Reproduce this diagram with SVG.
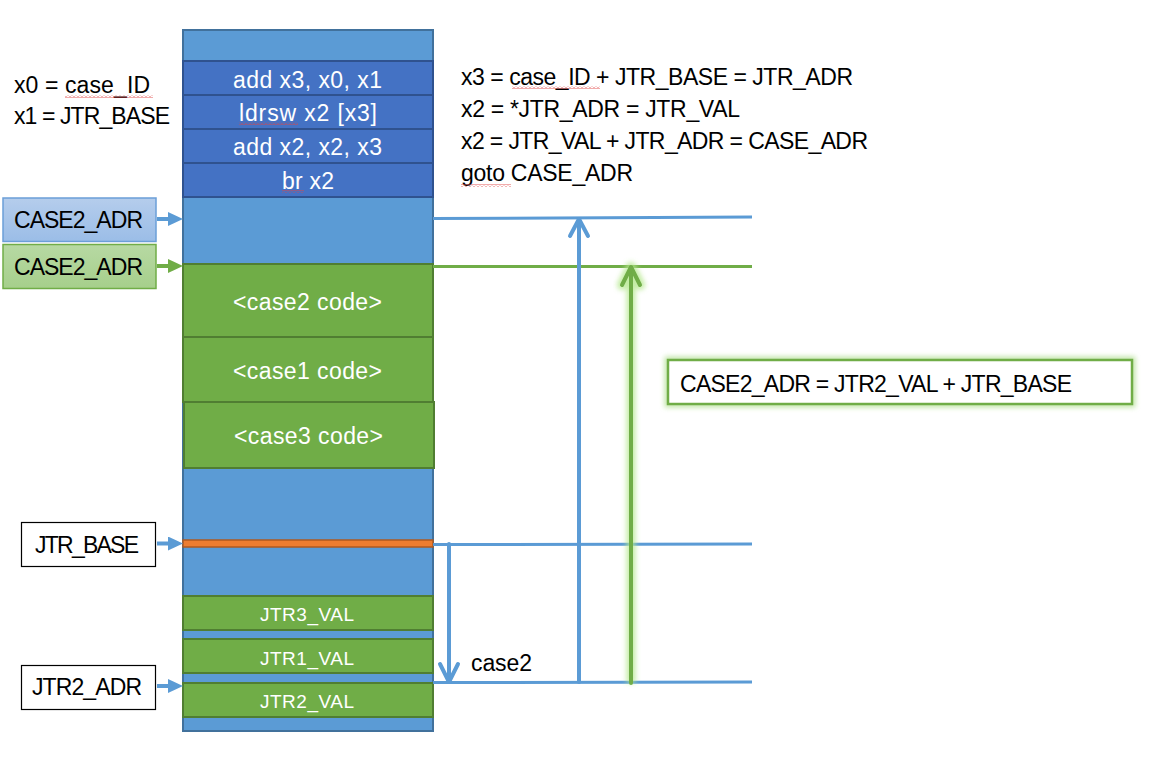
<svg xmlns="http://www.w3.org/2000/svg" width="1151" height="764" viewBox="0 0 1151 764">
<style>
text{font-family:"Liberation Sans",Arial,sans-serif;font-size:23px;fill:#000}
.w{fill:#fff}
.sm{font-size:19px}
.col{fill:#5b9bd5;stroke:#41719c;stroke-width:2}
.ins{fill:#4472c4;stroke:#2f528f;stroke-width:2}
.grn{fill:#70ad47;stroke:#507e32;stroke-width:2}
.bl{stroke:#5b9bd5;stroke-width:3;fill:none}
.gl{stroke:#70ad47;stroke-width:3;fill:none}
.arr{fill:none;stroke-width:4;stroke-linecap:round;stroke-linejoin:round}
.sq{fill:url(#squig)}
</style>
<defs>
<linearGradient id="gBlue" x1="0" y1="0" x2="0" y2="1"><stop offset="0" stop-color="#b5cdec"/><stop offset="1" stop-color="#9bbde7"/></linearGradient>
<linearGradient id="gGreen" x1="0" y1="0" x2="0" y2="1"><stop offset="0" stop-color="#b7d9a3"/><stop offset="1" stop-color="#a6cf8b"/></linearGradient>
<marker id="mBlue" viewBox="0 0 15 14" refX="0" refY="7" markerWidth="15" markerHeight="14" markerUnits="userSpaceOnUse" orient="auto"><path d="M0,0 L15,7 L0,14 z" fill="#5b9bd5"/></marker>
<marker id="mGreen" viewBox="0 0 15 14" refX="0" refY="7" markerWidth="15" markerHeight="14" markerUnits="userSpaceOnUse" orient="auto"><path d="M0,0 L15,7 L0,14 z" fill="#70ad47"/></marker>
<pattern id="squig" width="4" height="3" patternUnits="userSpaceOnUse"><polyline points="0,2.5 2,0.5 4,2.5" fill="none" stroke="#e04545" stroke-width="0.9"/></pattern>
<filter id="glow" x="-50%" y="-50%" width="200%" height="200%"><feGaussianBlur stdDeviation="2.5"/></filter>
</defs>

<g id="memory-column">
<rect class="col" x="183" y="30" width="250" height="701"/>
<g id="instructions">
<rect class="ins" x="183" y="61" width="250" height="34"/>
<rect class="ins" x="183" y="95" width="250" height="34"/>
<rect class="ins" x="183" y="129" width="250" height="34"/>
<rect class="ins" x="183" y="163" width="250" height="34"/>
<text class="w" x="233" y="88" textLength="149">add x3, x0, x1</text>
<text class="w" x="239" y="121" textLength="138">ldrsw x2 [x3]</text>
<text class="w" x="233" y="155" textLength="149">add x2, x2, x3</text>
<text class="w" x="282" y="189" textLength="52">br x2</text>
<rect class="sq" x="239" y="122" width="59" height="3"/>
<rect class="sq" x="282" y="190" width="22" height="3"/>
</g>
<g id="case-code">
<rect class="grn" x="183" y="264" width="250" height="73"/>
<rect class="grn" x="183" y="337" width="250" height="65"/>
<rect class="grn" x="184" y="402" width="250" height="66"/>
<text class="w" x="233" y="310" textLength="149">&lt;case2 code&gt;</text>
<text class="w" x="233" y="379" textLength="149">&lt;case1 code&gt;</text>
<text class="w" x="234" y="444" textLength="149">&lt;case3 code&gt;</text>
</g>
<g id="jtr-base-bar">
<rect x="183" y="540" width="250" height="7" fill="#ed7d31" stroke="#ae5a21" stroke-width="1.5"/>
</g>
<g id="jump-table">
<rect class="grn" x="183" y="596" width="250" height="34"/>
<rect class="grn" x="183" y="639" width="250" height="34"/>
<rect class="grn" x="183" y="683" width="250" height="34"/>
<text class="w sm" x="260" y="621" textLength="94">JTR3_VAL</text>
<text class="w sm" x="260" y="665" textLength="94">JTR1_VAL</text>
<text class="w sm" x="260" y="708" textLength="94">JTR2_VAL</text>
</g>
</g>

<g id="reg-notes">
<text x="14" y="93" textLength="136">x0 = case_ID</text>
<text x="14" y="124" textLength="156">x1 = JTR_BASE</text>
<rect class="sq" x="65" y="95" width="88" height="3"/>
</g>

<g id="explanation">
<text x="461" y="85" textLength="392">x3 = case_ID + JTR_BASE = JTR_ADR</text>
<text x="461" y="117" textLength="279">x2 = *JTR_ADR = JTR_VAL</text>
<text x="461" y="149" textLength="407">x2 = JTR_VAL + JTR_ADR = CASE_ADR</text>
<text x="461" y="181" textLength="172">goto CASE_ADR</text>
<rect class="sq" x="512" y="86" width="88" height="3"/>
<rect class="sq" x="461" y="184" width="50" height="3"/>
</g>

<g id="label-case2-blue">
<rect x="3" y="198" width="153" height="43.5" fill="url(#gBlue)" stroke="#6b9fd8" stroke-width="1.5"/>
<text x="14" y="228" textLength="129">CASE2_ADR</text>
</g>
<g id="label-case2-green">
<rect x="3" y="244.5" width="153" height="44" fill="url(#gGreen)" stroke="#70ad47" stroke-width="1.5"/>
<text x="14" y="275" textLength="129">CASE2_ADR</text>
</g>
<g id="label-jtr-base">
<rect x="21.5" y="522.5" width="134" height="44" fill="#fff" stroke="#000" stroke-width="1.2"/>
<text x="35" y="553" textLength="104">JTR_BASE</text>
</g>
<g id="label-jtr2-adr">
<rect x="21.5" y="665.5" width="134" height="44" fill="#fff" stroke="#000" stroke-width="1.2"/>
<text x="32" y="695" textLength="110">JTR2_ADR</text>
</g>
<g id="formula-box">
<rect x="668" y="360" width="464" height="44" fill="none" stroke="#a8dc84" stroke-width="7" opacity="0.7" filter="url(#glow)"/>
<rect x="668" y="360" width="464" height="44" fill="#fff" stroke="#70ad47" stroke-width="2.5"/>
<text x="680" y="392" textLength="392">CASE2_ADR = JTR2_VAL + JTR_BASE</text>
</g>

<g id="connectors">
<line x1="157" y1="219" x2="168" y2="219" stroke="#5b9bd5" stroke-width="4" marker-end="url(#mBlue)"/>
<line x1="157" y1="266" x2="168" y2="266" stroke="#70ad47" stroke-width="4" marker-end="url(#mGreen)"/>
<line x1="157" y1="543.5" x2="168" y2="543.5" stroke="#5b9bd5" stroke-width="4" marker-end="url(#mBlue)"/>
<line x1="157" y1="686" x2="168" y2="686" stroke="#5b9bd5" stroke-width="4" marker-end="url(#mBlue)"/>

<line class="bl" x1="433" y1="218.5" x2="752" y2="217"/>
<line class="gl" x1="433" y1="266.5" x2="752" y2="266.5"/>
<line class="bl" x1="433" y1="544.5" x2="752" y2="544"/>
<line class="bl" x1="433" y1="682.5" x2="752" y2="682"/>

<g id="arrow-case2-offset">
<line class="arr" x1="449" y1="544" x2="449" y2="681" stroke="#5b9bd5"/>
<polyline class="arr" points="440,664 449,682 458,664" stroke="#5b9bd5"/>
<text x="471" y="671" textLength="61">case2</text>
</g>
<g id="arrow-case2-adr-blue">
<line class="arr" x1="579" y1="682" x2="579" y2="220" stroke="#5b9bd5" stroke-linecap="butt"/>
<polyline class="arr" points="570,236 579,219 588,236" stroke="#5b9bd5"/>
</g>
<g id="arrow-case2-adr-green">
<g filter="url(#glow)" opacity="0.8">
<line x1="631" y1="683" x2="631" y2="268" stroke="#b5e88e" stroke-width="9"/>
<polyline points="622,285 631,267 640,285" fill="none" stroke="#b5e88e" stroke-width="10" stroke-linecap="round" stroke-linejoin="round"/>
</g>
<line class="arr" x1="631" y1="683" x2="631" y2="268" stroke="#70ad47" stroke-width="5" stroke-linecap="butt"/>
<polyline class="arr" points="622,285 631,267 640,285" stroke="#70ad47" stroke-width="5"/>
</g>
</g>
</svg>
